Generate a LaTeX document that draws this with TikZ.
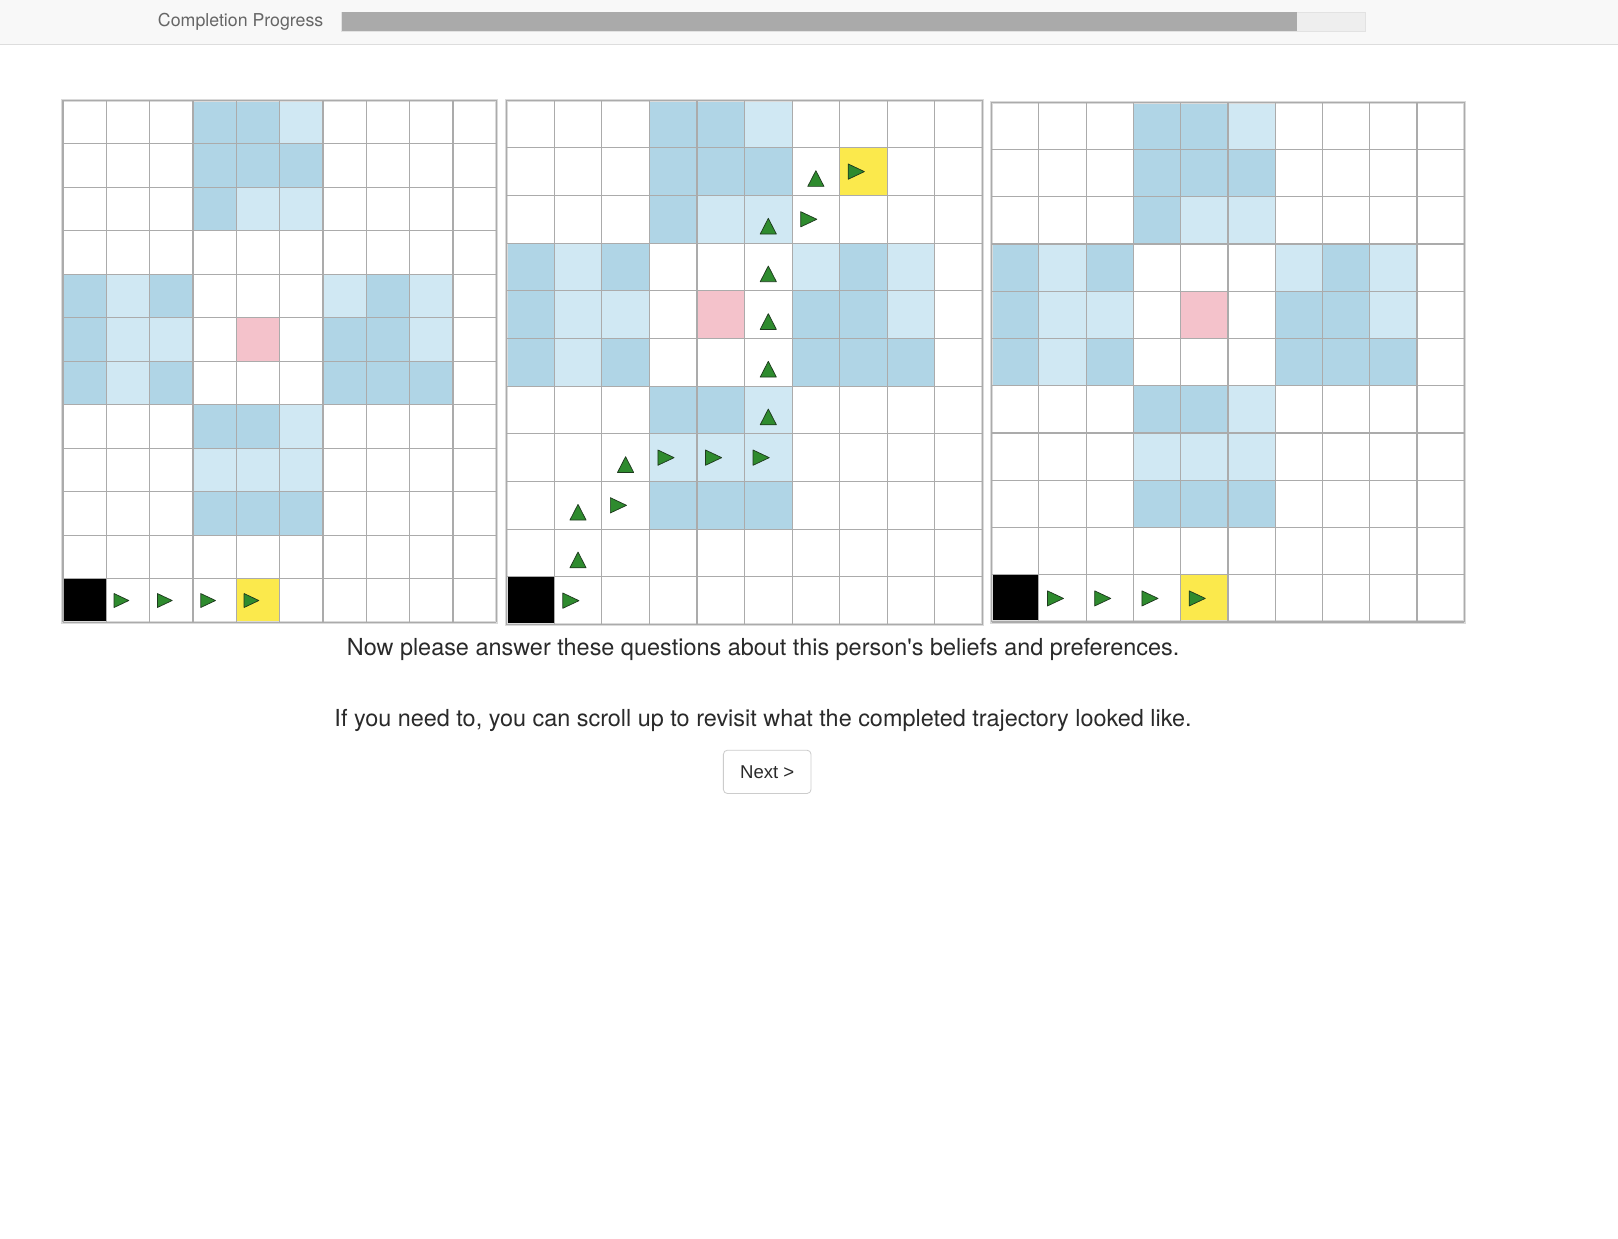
\documentclass[tikz,border=0pt]{standalone}
\usepackage{fontspec}
\setmainfont{TeX Gyre Heros}[Ligatures=TeXOff]
\newfontfamily\btnfont{Liberation Sans}
\definecolor{headerbg}{HTML}{F8F8F8}
\definecolor{headerline}{HTML}{DDDDDD}
\definecolor{barbg}{HTML}{EEEEEE}
\definecolor{barborder}{HTML}{E2E2E2}
\definecolor{barfill}{HTML}{AAAAAA}
\definecolor{darkblue}{HTML}{B0D5E6}
\definecolor{lightblue}{HTML}{D0E8F3}
\definecolor{pinkcell}{HTML}{F4C2CB}
\definecolor{yellowcell}{HTML}{FBE94C}
\definecolor{gridgray}{HTML}{ABABAB}
\definecolor{gridshadow}{HTML}{DADADA}
\definecolor{arrowgreen}{HTML}{2E8B2E}
\definecolor{arrowedge}{HTML}{1E3A1E}
\definecolor{textdark}{HTML}{2A2A2A}
\definecolor{textgray}{HTML}{666666}
\definecolor{btnborder}{HTML}{CCCCCC}
\tikzset{
  gridline/.style={draw=gridgray, line width=1.1pt},
  gridouter/.style={draw=gridshadow, line width=3pt},
  rarrow/.style={fill=arrowgreen, draw=arrowedge, line width=0.7pt, line join=round},
  uarrow/.style={fill=arrowgreen, draw=arrowedge, line width=0.7pt, line join=round},
  maintext/.style={text=textdark, font=\fontsize{22.7}{27}\selectfont, inner sep=0pt},
  progtext/.style={text=textgray, font=\fontsize{17.2}{20}\selectfont, inner sep=0pt},
  nextbtn/.style={draw=btnborder, line width=0.8pt, rounded corners=4pt, fill=white,
    minimum width=85pt, minimum height=42pt, text=textdark, font=\btnfont\fontsize{18}{22}\selectfont}
}
% cell fill helpers (used inside a scaled scope)
\newcommand{\fillcells}[2]{\foreach \cc/\rr in {#2} {\fill[#1] (\cc,\rr) rectangle ++(1,1);}}
\newcommand{\rightarrows}[1]{\foreach \cc/\rr in {#1} {\draw[rarrow] (\cc+0.18,\rr+0.34) -- (\cc+0.18,\rr+0.66) -- (\cc+0.52,\rr+0.5) -- cycle;}}
\newcommand{\uparrows}[1]{\foreach \cc/\rr in {#1} {\draw[uarrow] (\cc+0.33,\rr+0.81) -- (\cc+0.67,\rr+0.81) -- (\cc+0.5,\rr+0.48) -- cycle;}}
\newcommand{\gridlines}[2]{%
  \draw[gridouter] (0,0) rectangle (#1,#2);
  \foreach \ii in {0,...,#1} {\draw[gridline] (\ii,0) -- (\ii,#2);}
  \foreach \jj in {0,...,#2} {\draw[gridline] (0,\jj) -- (#1,\jj);}
}
\begin{document}
\begin{tikzpicture}[x=1pt,y=-1pt]
\useasboundingbox (0,0) rectangle (1568,1200);
\fill[white] (0,0) rectangle (1568,1200);
% header
\fill[headerbg] (0,0) rectangle (1568,43);
\draw[headerline, line width=1.2pt] (0,43) -- (1568,43);
\node[progtext, anchor=east] (progress) at (313.5,21.5) {Completion Progress};
\draw[barborder, fill=barbg, line width=0.6pt] (331,12) rectangle (1323,30);
\fill[barfill] (331,12) rectangle (1257,30);

% ---------- grid 1 : 10 x 12 ----------
\begin{scope}[shift={(61,97)}, x=42pt, y=-42.17pt]
  \fillcells{darkblue}{3/0,4/0,3/1,4/1,5/1,3/2, 0/4,2/4,7/4, 0/5,6/5,7/5, 0/6,2/6,6/6,7/6,8/6, 3/7,4/7, 3/9,4/9,5/9}
  \fillcells{lightblue}{5/0,4/2,5/2, 1/4,6/4,8/4, 1/5,2/5,8/5, 1/6, 5/7, 3/8,4/8,5/8}
  \fillcells{pinkcell}{4/5}
  \fillcells{black}{0/11}
  \fillcells{yellowcell}{4/11}
  \gridlines{10}{12}
  \rightarrows{1/11,2/11,3/11,4/11}
\end{scope}

% ---------- grid 2 : 10 x 11 ----------
\begin{scope}[shift={(491,97)}, x=46.1pt, y=-46.2pt]
  \fillcells{darkblue}{3/0,4/0,3/1,4/1,5/1,3/2, 0/3,2/3,7/3, 0/4,6/4,7/4, 0/5,2/5,6/5,7/5,8/5, 3/6,4/6, 3/8,4/8,5/8}
  \fillcells{lightblue}{5/0,4/2,5/2, 1/3,6/3,8/3, 1/4,2/4,8/4, 1/5, 5/6, 3/7,4/7,5/7}
  \fillcells{pinkcell}{4/4}
  \fillcells{black}{0/10}
  \fillcells{yellowcell}{7/1}
  \gridlines{10}{11}
  \rightarrows{1/10,2/8,3/7,4/7,5/7,6/2,7/1}
  \uparrows{1/9,1/8,2/7,5/6,5/5,5/4,5/3,5/2,6/1}
\end{scope}

% ---------- grid 3 : 10 x 11 ----------
\begin{scope}[shift={(961,99)}, x=45.8pt, y=-45.8pt]
  \fillcells{darkblue}{3/0,4/0,3/1,4/1,5/1,3/2, 0/3,2/3,7/3, 0/4,6/4,7/4, 0/5,2/5,6/5,7/5,8/5, 3/6,4/6, 3/8,4/8,5/8}
  \fillcells{lightblue}{5/0,4/2,5/2, 1/3,6/3,8/3, 1/4,2/4,8/4, 1/5, 5/6, 3/7,4/7,5/7}
  \fillcells{pinkcell}{4/4}
  \fillcells{black}{0/10}
  \fillcells{yellowcell}{4/10}
  \gridlines{10}{11}
  \rightarrows{1/10,2/10,3/10,4/10}
\end{scope}

% text
\node[maintext] (q1) at (739.5,629.5) {Now please answer these questions about this person's beliefs and preferences.};
\node[maintext] (q2) at (739.5,698.5) {If you need to, you can scroll up to revisit what the completed trajectory looked like.};
\node[nextbtn] (next) at (743.5,748) {Next \textgreater};
\end{tikzpicture}
\end{document}
